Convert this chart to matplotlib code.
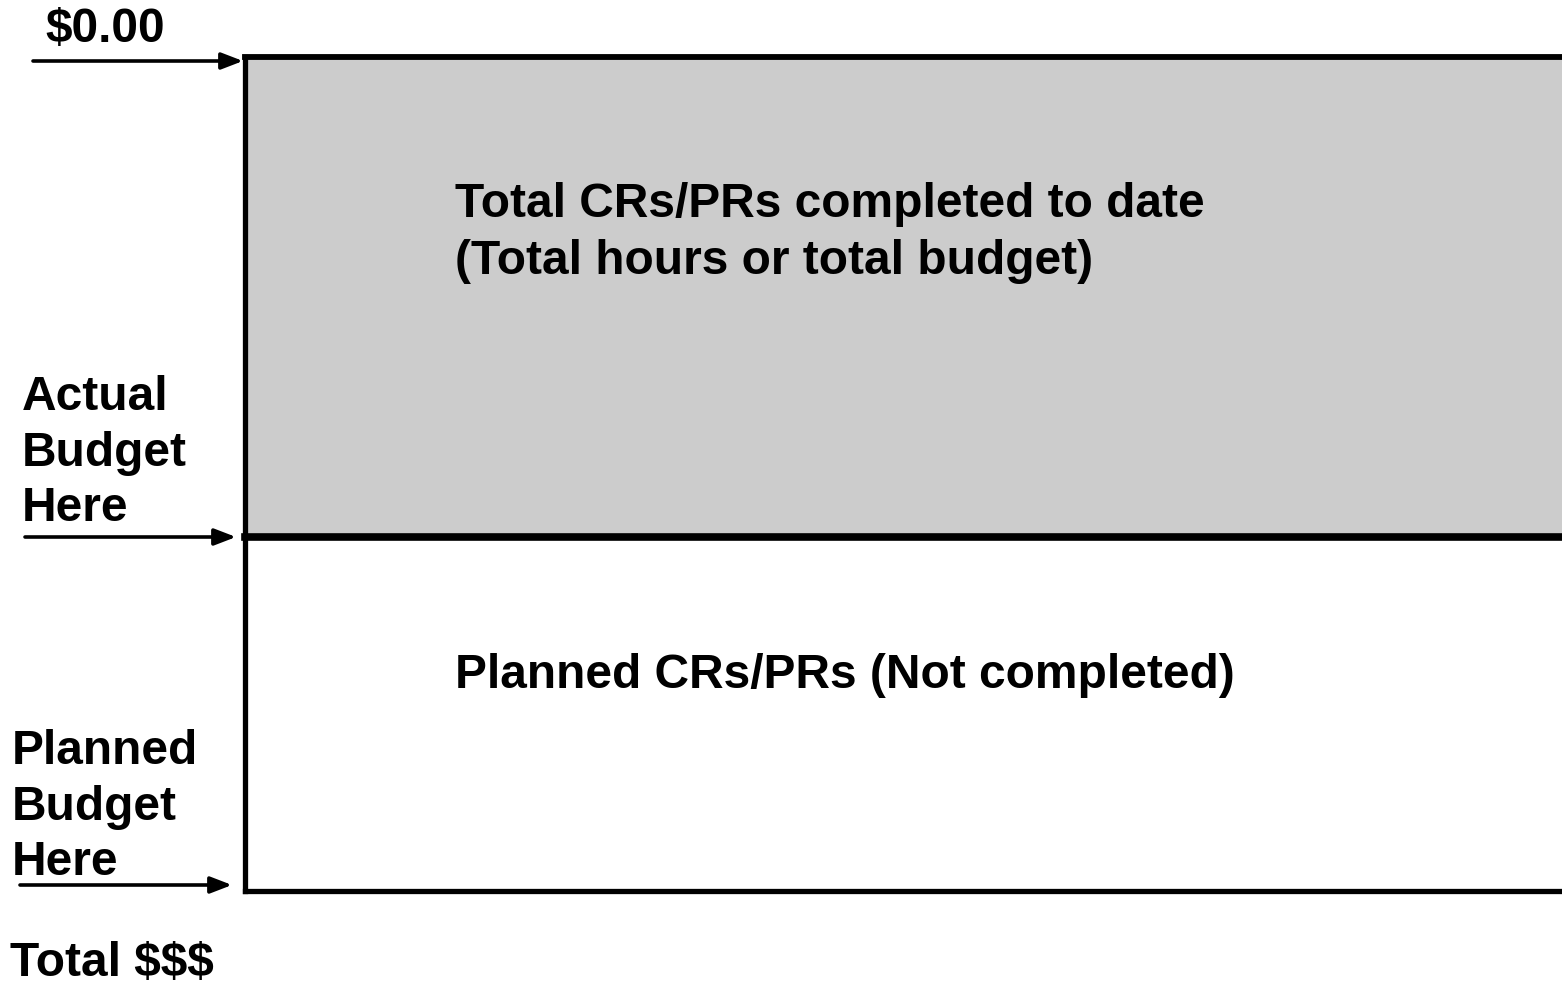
import matplotlib.pyplot as plt
from matplotlib.patches import Rectangle

plt.rcParams['font.family'] = ['Liberation Sans', 'DejaVu Sans']

# diagram levels (pixel rows of the reference, top to bottom)
levels = [57, 537, 891]          # $0.00, actual budget, planned budget
level_labels = ['$0.00', 'Actual\nBudget\nHere', 'Planned\nBudget\nHere']
section_texts = ['Total CRs/PRs completed to date\n(Total hours or total budget)',
                 'Planned CRs/PRs (Not completed)']
bottom_label = 'Total $$$'

W, H = 1562, 984
fig = plt.figure(figsize=(W / 100, H / 100), dpi=100)
ax = fig.add_axes([0, 0, 1, 1])
ax.set_xlim(0, W)
ax.set_ylim(H, 0)
ax.axis('off')

box_left = 245
# completed section (gray)
ax.add_patch(Rectangle((box_left, levels[0]), W, levels[1] - levels[0],
                       facecolor='#cccccc', edgecolor='none', zorder=1))
# box outline
ax.plot([box_left, W + 10], [levels[0], levels[0]], color='black', lw=4.2,
        solid_capstyle='projecting', zorder=3)
ax.plot([box_left, W + 10], [levels[1], levels[1]], color='black', lw=5.5, zorder=3)
ax.plot([box_left, W + 10], [levels[2], levels[2]], color='black', lw=3.8,
        solid_capstyle='projecting', zorder=3)
ax.plot([box_left, box_left], [levels[0], levels[2]], color='black', lw=3.8,
        solid_capstyle='projecting', zorder=3)

# arrows pointing at the levels
arrow_x = [(33, 243), (25, 236), (20, 232)]
arrow_y = [61, 537, 885]
for (x0, x1), y in zip(arrow_x, arrow_y):
    ax.annotate('', xy=(x1, y), xytext=(x0, y),
                arrowprops=dict(arrowstyle='-|>,head_length=1.3,head_width=0.5',
                                color='black', lw=2.6, shrinkA=0, shrinkB=0))

fs = 34.5
ax.text(45, 30, level_labels[0], fontsize=fs, fontweight='bold', va='center', ha='left')
ax.text(22, 453, level_labels[1], fontsize=fs, fontweight='bold', va='center', ha='left',
        linespacing=1.3)
ax.text(12, 807, level_labels[2], fontsize=fs, fontweight='bold', va='center', ha='left',
        linespacing=1.3)
ax.text(10, 964, bottom_label, fontsize=fs, fontweight='bold', va='center', ha='left')

ax.text(455, 233, section_texts[0], fontsize=fs, fontweight='bold', va='center', ha='left',
        linespacing=1.33)
ax.text(455, 675, section_texts[1], fontsize=fs, fontweight='bold', va='center', ha='left')

fig.savefig('out.png', dpi=100)
